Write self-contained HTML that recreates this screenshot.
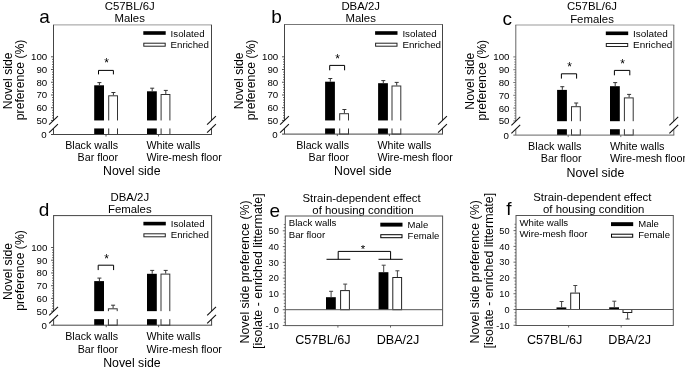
<!DOCTYPE html>
<html><head><meta charset="utf-8"><style>
html,body{margin:0;padding:0;background:#fff;}
body{width:685px;height:371px;overflow:hidden;}
svg{display:block;}
text{font-family:"Liberation Sans", Arial, Helvetica, sans-serif;fill:#000;}
</style></head><body>
<svg width="685" height="371" viewBox="0 0 685 371">
<rect width="685" height="371" fill="#fff"/>
<text x="39.3" y="23.1" font-size="19">a</text>
<text x="129.7" y="9.9" font-size="11.4" text-anchor="middle">C57BL/6J</text>
<text x="129.7" y="22.3" font-size="11.4" text-anchor="middle">Males</text>
<rect x="94.2" y="85.3" width="9.8" height="49.2" fill="#000"/>
<line x1="99.4" y1="85.3" x2="99.4" y2="82.6" stroke="#333" stroke-width="1"/>
<line x1="97.4" y1="82.6" x2="101.4" y2="82.6" stroke="#333" stroke-width="1"/>
<rect x="108.7" y="95.8" width="8.8" height="38.7" fill="#fff" stroke="#333" stroke-width="1"/>
<line x1="113.4" y1="95.3" x2="113.4" y2="92.5" stroke="#333" stroke-width="1"/>
<line x1="111.4" y1="92.5" x2="115.4" y2="92.5" stroke="#333" stroke-width="1"/>
<rect x="147" y="91.3" width="9.8" height="43.2" fill="#000"/>
<line x1="152.2" y1="91.3" x2="152.2" y2="88.2" stroke="#333" stroke-width="1"/>
<line x1="150.2" y1="88.2" x2="154.2" y2="88.2" stroke="#333" stroke-width="1"/>
<rect x="161.1" y="94.5" width="8.8" height="40" fill="#fff" stroke="#333" stroke-width="1"/>
<line x1="165.8" y1="94" x2="165.8" y2="90.4" stroke="#333" stroke-width="1"/>
<line x1="163.8" y1="90.4" x2="167.8" y2="90.4" stroke="#333" stroke-width="1"/>
<line x1="53" y1="24.9" x2="212" y2="24.9" stroke="#999" stroke-width="1"/>
<line x1="211.5" y1="24.9" x2="211.5" y2="120.45" stroke="#444" stroke-width="1"/>
<line x1="211.5" y1="128.45" x2="211.5" y2="134.5" stroke="#444" stroke-width="1"/>
<line x1="53.5" y1="24.9" x2="53.5" y2="120.45" stroke="#444" stroke-width="1"/>
<line x1="53.5" y1="128.45" x2="53.5" y2="134.5" stroke="#444" stroke-width="1"/>
<line x1="51" y1="134.5" x2="212" y2="134.5" stroke="#444" stroke-width="1"/>
<line x1="51" y1="120.45" x2="53.5" y2="120.45" stroke="#444" stroke-width="0.9"/>
<text x="47.2" y="123.95" font-size="9.7" text-anchor="end">50</text>
<line x1="52" y1="117.9" x2="53.5" y2="117.9" stroke="#444" stroke-width="0.8"/>
<line x1="52" y1="115.36" x2="53.5" y2="115.36" stroke="#444" stroke-width="0.8"/>
<line x1="52" y1="112.81" x2="53.5" y2="112.81" stroke="#444" stroke-width="0.8"/>
<line x1="52" y1="110.27" x2="53.5" y2="110.27" stroke="#444" stroke-width="0.8"/>
<line x1="51" y1="107.72" x2="53.5" y2="107.72" stroke="#444" stroke-width="0.9"/>
<text x="47.2" y="111.22" font-size="9.7" text-anchor="end">60</text>
<line x1="52" y1="105.17" x2="53.5" y2="105.17" stroke="#444" stroke-width="0.8"/>
<line x1="52" y1="102.63" x2="53.5" y2="102.63" stroke="#444" stroke-width="0.8"/>
<line x1="52" y1="100.08" x2="53.5" y2="100.08" stroke="#444" stroke-width="0.8"/>
<line x1="52" y1="97.54" x2="53.5" y2="97.54" stroke="#444" stroke-width="0.8"/>
<line x1="51" y1="94.99" x2="53.5" y2="94.99" stroke="#444" stroke-width="0.9"/>
<text x="47.2" y="98.49" font-size="9.7" text-anchor="end">70</text>
<line x1="52" y1="92.44" x2="53.5" y2="92.44" stroke="#444" stroke-width="0.8"/>
<line x1="52" y1="89.9" x2="53.5" y2="89.9" stroke="#444" stroke-width="0.8"/>
<line x1="52" y1="87.35" x2="53.5" y2="87.35" stroke="#444" stroke-width="0.8"/>
<line x1="52" y1="84.81" x2="53.5" y2="84.81" stroke="#444" stroke-width="0.8"/>
<line x1="51" y1="82.26" x2="53.5" y2="82.26" stroke="#444" stroke-width="0.9"/>
<text x="47.2" y="85.76" font-size="9.7" text-anchor="end">80</text>
<line x1="52" y1="79.71" x2="53.5" y2="79.71" stroke="#444" stroke-width="0.8"/>
<line x1="52" y1="77.17" x2="53.5" y2="77.17" stroke="#444" stroke-width="0.8"/>
<line x1="52" y1="74.62" x2="53.5" y2="74.62" stroke="#444" stroke-width="0.8"/>
<line x1="52" y1="72.08" x2="53.5" y2="72.08" stroke="#444" stroke-width="0.8"/>
<line x1="51" y1="69.53" x2="53.5" y2="69.53" stroke="#444" stroke-width="0.9"/>
<text x="47.2" y="73.03" font-size="9.7" text-anchor="end">90</text>
<line x1="52" y1="66.98" x2="53.5" y2="66.98" stroke="#444" stroke-width="0.8"/>
<line x1="52" y1="64.44" x2="53.5" y2="64.44" stroke="#444" stroke-width="0.8"/>
<line x1="52" y1="61.89" x2="53.5" y2="61.89" stroke="#444" stroke-width="0.8"/>
<line x1="52" y1="59.35" x2="53.5" y2="59.35" stroke="#444" stroke-width="0.8"/>
<line x1="51" y1="56.8" x2="53.5" y2="56.8" stroke="#444" stroke-width="0.9"/>
<text x="47.2" y="60.3" font-size="9.7" text-anchor="end">100</text>
<text x="46.7" y="138" font-size="9.7" text-anchor="end">0</text>
<rect x="54.1" y="120.45" width="156.8" height="8" fill="#fff"/>
<line x1="49.1" y1="124.7" x2="57.9" y2="116.2" stroke="#111" stroke-width="1.1"/>
<line x1="49.1" y1="132.7" x2="57.9" y2="124.2" stroke="#111" stroke-width="1.1"/>
<line x1="207.1" y1="124.7" x2="215.9" y2="116.2" stroke="#111" stroke-width="1.1"/>
<line x1="207.1" y1="132.7" x2="215.9" y2="124.2" stroke="#111" stroke-width="1.1"/>
<line x1="106" y1="134.5" x2="106" y2="136.5" stroke="#444" stroke-width="0.9"/>
<line x1="158.5" y1="134.5" x2="158.5" y2="136.5" stroke="#444" stroke-width="0.9"/>
<path d="M98.5 74.4V70.4H113.4V74.4" fill="none" stroke="#000" stroke-width="1"/>
<text x="106.6" y="67.3" font-size="12" text-anchor="middle">*</text>
<rect x="143.3" y="31.2" width="22.4" height="3.6" fill="#000"/>
<rect x="143.8" y="43.2" width="21.4" height="3" fill="#fff" stroke="#222" stroke-width="1"/>
<text x="170.6" y="36.6" font-size="9.7">Isolated</text>
<text x="170.6" y="47.7" font-size="9.7">Enriched</text>
<text x="118" y="148.5" font-size="10.7" text-anchor="end">Black walls</text>
<text x="118" y="161" font-size="10.7" text-anchor="end">Bar floor</text>
<text x="146.4" y="148.5" font-size="10.7">White walls</text>
<text x="146.4" y="161" font-size="10.7">Wire-mesh floor</text>
<text x="131.8" y="175" font-size="12.3" text-anchor="middle">Novel side</text>
<text transform="translate(11.5,80.9) rotate(-90)" font-size="12.2" text-anchor="middle">Novel side</text>
<text transform="translate(24.1,79.9) rotate(-90)" font-size="12.2" text-anchor="middle">preference (%)</text>
<text x="271.2" y="23.3" font-size="19">b</text>
<text x="360.7" y="9.9" font-size="11.4" text-anchor="middle">DBA/2J</text>
<text x="360.7" y="22.3" font-size="11.4" text-anchor="middle">Males</text>
<rect x="325.1" y="81.7" width="9.8" height="52.4" fill="#000"/>
<line x1="330.3" y1="81.7" x2="330.3" y2="78.5" stroke="#333" stroke-width="1"/>
<line x1="328.3" y1="78.5" x2="332.3" y2="78.5" stroke="#333" stroke-width="1"/>
<rect x="339.7" y="113.7" width="8.8" height="20.4" fill="#fff" stroke="#333" stroke-width="1"/>
<line x1="344.4" y1="113.2" x2="344.4" y2="109.5" stroke="#333" stroke-width="1"/>
<line x1="342.4" y1="109.5" x2="346.4" y2="109.5" stroke="#333" stroke-width="1"/>
<rect x="378.1" y="83.2" width="9.8" height="50.9" fill="#000"/>
<line x1="383.3" y1="83.2" x2="383.3" y2="80.6" stroke="#333" stroke-width="1"/>
<line x1="381.3" y1="80.6" x2="385.3" y2="80.6" stroke="#333" stroke-width="1"/>
<rect x="392" y="86" width="8.8" height="48.1" fill="#fff" stroke="#333" stroke-width="1"/>
<line x1="396.7" y1="85.5" x2="396.7" y2="82.4" stroke="#333" stroke-width="1"/>
<line x1="394.7" y1="82.4" x2="398.7" y2="82.4" stroke="#333" stroke-width="1"/>
<line x1="284" y1="24.5" x2="443" y2="24.5" stroke="#777" stroke-width="1"/>
<line x1="442.5" y1="24.5" x2="442.5" y2="120.45" stroke="#444" stroke-width="1"/>
<line x1="442.5" y1="128.45" x2="442.5" y2="134.1" stroke="#444" stroke-width="1"/>
<line x1="284.5" y1="24.5" x2="284.5" y2="120.45" stroke="#444" stroke-width="1"/>
<line x1="284.5" y1="128.45" x2="284.5" y2="134.1" stroke="#444" stroke-width="1"/>
<line x1="282" y1="134.1" x2="443" y2="134.1" stroke="#444" stroke-width="1"/>
<line x1="282" y1="120.45" x2="284.5" y2="120.45" stroke="#444" stroke-width="0.9"/>
<text x="278.2" y="123.95" font-size="9.7" text-anchor="end">50</text>
<line x1="283" y1="117.9" x2="284.5" y2="117.9" stroke="#444" stroke-width="0.8"/>
<line x1="283" y1="115.36" x2="284.5" y2="115.36" stroke="#444" stroke-width="0.8"/>
<line x1="283" y1="112.81" x2="284.5" y2="112.81" stroke="#444" stroke-width="0.8"/>
<line x1="283" y1="110.27" x2="284.5" y2="110.27" stroke="#444" stroke-width="0.8"/>
<line x1="282" y1="107.72" x2="284.5" y2="107.72" stroke="#444" stroke-width="0.9"/>
<text x="278.2" y="111.22" font-size="9.7" text-anchor="end">60</text>
<line x1="283" y1="105.17" x2="284.5" y2="105.17" stroke="#444" stroke-width="0.8"/>
<line x1="283" y1="102.63" x2="284.5" y2="102.63" stroke="#444" stroke-width="0.8"/>
<line x1="283" y1="100.08" x2="284.5" y2="100.08" stroke="#444" stroke-width="0.8"/>
<line x1="283" y1="97.54" x2="284.5" y2="97.54" stroke="#444" stroke-width="0.8"/>
<line x1="282" y1="94.99" x2="284.5" y2="94.99" stroke="#444" stroke-width="0.9"/>
<text x="278.2" y="98.49" font-size="9.7" text-anchor="end">70</text>
<line x1="283" y1="92.44" x2="284.5" y2="92.44" stroke="#444" stroke-width="0.8"/>
<line x1="283" y1="89.9" x2="284.5" y2="89.9" stroke="#444" stroke-width="0.8"/>
<line x1="283" y1="87.35" x2="284.5" y2="87.35" stroke="#444" stroke-width="0.8"/>
<line x1="283" y1="84.81" x2="284.5" y2="84.81" stroke="#444" stroke-width="0.8"/>
<line x1="282" y1="82.26" x2="284.5" y2="82.26" stroke="#444" stroke-width="0.9"/>
<text x="278.2" y="85.76" font-size="9.7" text-anchor="end">80</text>
<line x1="283" y1="79.71" x2="284.5" y2="79.71" stroke="#444" stroke-width="0.8"/>
<line x1="283" y1="77.17" x2="284.5" y2="77.17" stroke="#444" stroke-width="0.8"/>
<line x1="283" y1="74.62" x2="284.5" y2="74.62" stroke="#444" stroke-width="0.8"/>
<line x1="283" y1="72.08" x2="284.5" y2="72.08" stroke="#444" stroke-width="0.8"/>
<line x1="282" y1="69.53" x2="284.5" y2="69.53" stroke="#444" stroke-width="0.9"/>
<text x="278.2" y="73.03" font-size="9.7" text-anchor="end">90</text>
<line x1="283" y1="66.98" x2="284.5" y2="66.98" stroke="#444" stroke-width="0.8"/>
<line x1="283" y1="64.44" x2="284.5" y2="64.44" stroke="#444" stroke-width="0.8"/>
<line x1="283" y1="61.89" x2="284.5" y2="61.89" stroke="#444" stroke-width="0.8"/>
<line x1="283" y1="59.35" x2="284.5" y2="59.35" stroke="#444" stroke-width="0.8"/>
<line x1="282" y1="56.8" x2="284.5" y2="56.8" stroke="#444" stroke-width="0.9"/>
<text x="278.2" y="60.3" font-size="9.7" text-anchor="end">100</text>
<text x="277.7" y="137.6" font-size="9.7" text-anchor="end">0</text>
<rect x="285.1" y="120.45" width="156.8" height="8" fill="#fff"/>
<line x1="280.1" y1="124.7" x2="288.9" y2="116.2" stroke="#111" stroke-width="1.1"/>
<line x1="280.1" y1="132.7" x2="288.9" y2="124.2" stroke="#111" stroke-width="1.1"/>
<line x1="438.1" y1="124.7" x2="446.9" y2="116.2" stroke="#111" stroke-width="1.1"/>
<line x1="438.1" y1="132.7" x2="446.9" y2="124.2" stroke="#111" stroke-width="1.1"/>
<line x1="337.3" y1="134.1" x2="337.3" y2="136.1" stroke="#444" stroke-width="0.9"/>
<line x1="389.45" y1="134.1" x2="389.45" y2="136.1" stroke="#444" stroke-width="0.9"/>
<path d="M329.7 70.3V65.4H344.6V70.3" fill="none" stroke="#000" stroke-width="1"/>
<text x="337.6" y="62.8" font-size="12" text-anchor="middle">*</text>
<rect x="375.1" y="31.2" width="22.4" height="3.6" fill="#000"/>
<rect x="375.6" y="43.2" width="21.4" height="3" fill="#fff" stroke="#222" stroke-width="1"/>
<text x="402.4" y="36.6" font-size="9.8">Isolated</text>
<text x="402.4" y="47.7" font-size="9.8">Enriched</text>
<text x="349" y="148.5" font-size="10.7" text-anchor="end">Black walls</text>
<text x="349" y="161" font-size="10.7" text-anchor="end">Bar floor</text>
<text x="377.4" y="148.5" font-size="10.7">White walls</text>
<text x="377.4" y="161" font-size="10.7">Wire-mesh floor</text>
<text x="362.8" y="175" font-size="12.3" text-anchor="middle">Novel side</text>
<text transform="translate(242.5,80.9) rotate(-90)" font-size="12.2" text-anchor="middle">Novel side</text>
<text transform="translate(255.1,79.9) rotate(-90)" font-size="12.2" text-anchor="middle">preference (%)</text>
<text x="502.6" y="24.9" font-size="19">c</text>
<text x="592" y="10.2" font-size="11.4" text-anchor="middle">C57BL/6J</text>
<text x="592" y="22.6" font-size="11.4" text-anchor="middle">Females</text>
<rect x="557.1" y="89.9" width="9.8" height="45.2" fill="#000"/>
<line x1="562.3" y1="89.9" x2="562.3" y2="86.7" stroke="#333" stroke-width="1"/>
<line x1="560.3" y1="86.7" x2="564.3" y2="86.7" stroke="#333" stroke-width="1"/>
<rect x="571.5" y="106.7" width="8.8" height="28.4" fill="#fff" stroke="#333" stroke-width="1"/>
<line x1="576.2" y1="106.2" x2="576.2" y2="103" stroke="#333" stroke-width="1"/>
<line x1="574.2" y1="103" x2="578.2" y2="103" stroke="#333" stroke-width="1"/>
<rect x="610" y="86.2" width="9.8" height="48.9" fill="#000"/>
<line x1="615.2" y1="86.2" x2="615.2" y2="82.6" stroke="#333" stroke-width="1"/>
<line x1="613.2" y1="82.6" x2="617.2" y2="82.6" stroke="#333" stroke-width="1"/>
<rect x="624.4" y="97.9" width="8.8" height="37.2" fill="#fff" stroke="#333" stroke-width="1"/>
<line x1="629.1" y1="97.4" x2="629.1" y2="94.4" stroke="#333" stroke-width="1"/>
<line x1="627.1" y1="94.4" x2="631.1" y2="94.4" stroke="#333" stroke-width="1"/>
<line x1="515.3" y1="25" x2="674.3" y2="25" stroke="#999" stroke-width="1"/>
<line x1="673.8" y1="25" x2="673.8" y2="121.2" stroke="#666" stroke-width="1"/>
<line x1="673.8" y1="129.2" x2="673.8" y2="135.1" stroke="#666" stroke-width="1"/>
<line x1="515.8" y1="25" x2="515.8" y2="121.2" stroke="#666" stroke-width="1"/>
<line x1="515.8" y1="129.2" x2="515.8" y2="135.1" stroke="#666" stroke-width="1"/>
<line x1="513.3" y1="135.1" x2="674.3" y2="135.1" stroke="#666" stroke-width="1"/>
<line x1="513.3" y1="120.9" x2="515.8" y2="120.9" stroke="#666" stroke-width="0.9"/>
<text x="509.5" y="124.4" font-size="9.7" text-anchor="end">50</text>
<line x1="514.3" y1="118.34" x2="515.8" y2="118.34" stroke="#666" stroke-width="0.8"/>
<line x1="514.3" y1="115.78" x2="515.8" y2="115.78" stroke="#666" stroke-width="0.8"/>
<line x1="514.3" y1="113.22" x2="515.8" y2="113.22" stroke="#666" stroke-width="0.8"/>
<line x1="514.3" y1="110.66" x2="515.8" y2="110.66" stroke="#666" stroke-width="0.8"/>
<line x1="513.3" y1="108.1" x2="515.8" y2="108.1" stroke="#666" stroke-width="0.9"/>
<text x="509.5" y="111.6" font-size="9.7" text-anchor="end">60</text>
<line x1="514.3" y1="105.54" x2="515.8" y2="105.54" stroke="#666" stroke-width="0.8"/>
<line x1="514.3" y1="102.98" x2="515.8" y2="102.98" stroke="#666" stroke-width="0.8"/>
<line x1="514.3" y1="100.42" x2="515.8" y2="100.42" stroke="#666" stroke-width="0.8"/>
<line x1="514.3" y1="97.86" x2="515.8" y2="97.86" stroke="#666" stroke-width="0.8"/>
<line x1="513.3" y1="95.3" x2="515.8" y2="95.3" stroke="#666" stroke-width="0.9"/>
<text x="509.5" y="98.8" font-size="9.7" text-anchor="end">70</text>
<line x1="514.3" y1="92.74" x2="515.8" y2="92.74" stroke="#666" stroke-width="0.8"/>
<line x1="514.3" y1="90.18" x2="515.8" y2="90.18" stroke="#666" stroke-width="0.8"/>
<line x1="514.3" y1="87.62" x2="515.8" y2="87.62" stroke="#666" stroke-width="0.8"/>
<line x1="514.3" y1="85.06" x2="515.8" y2="85.06" stroke="#666" stroke-width="0.8"/>
<line x1="513.3" y1="82.5" x2="515.8" y2="82.5" stroke="#666" stroke-width="0.9"/>
<text x="509.5" y="86" font-size="9.7" text-anchor="end">80</text>
<line x1="514.3" y1="79.94" x2="515.8" y2="79.94" stroke="#666" stroke-width="0.8"/>
<line x1="514.3" y1="77.38" x2="515.8" y2="77.38" stroke="#666" stroke-width="0.8"/>
<line x1="514.3" y1="74.82" x2="515.8" y2="74.82" stroke="#666" stroke-width="0.8"/>
<line x1="514.3" y1="72.26" x2="515.8" y2="72.26" stroke="#666" stroke-width="0.8"/>
<line x1="513.3" y1="69.7" x2="515.8" y2="69.7" stroke="#666" stroke-width="0.9"/>
<text x="509.5" y="73.2" font-size="9.7" text-anchor="end">90</text>
<line x1="514.3" y1="67.14" x2="515.8" y2="67.14" stroke="#666" stroke-width="0.8"/>
<line x1="514.3" y1="64.58" x2="515.8" y2="64.58" stroke="#666" stroke-width="0.8"/>
<line x1="514.3" y1="62.02" x2="515.8" y2="62.02" stroke="#666" stroke-width="0.8"/>
<line x1="514.3" y1="59.46" x2="515.8" y2="59.46" stroke="#666" stroke-width="0.8"/>
<line x1="513.3" y1="56.9" x2="515.8" y2="56.9" stroke="#666" stroke-width="0.9"/>
<text x="509.5" y="60.4" font-size="9.7" text-anchor="end">100</text>
<text x="509" y="138.6" font-size="9.7" text-anchor="end">0</text>
<rect x="516.4" y="121.2" width="156.8" height="8" fill="#fff"/>
<line x1="511.4" y1="125.45" x2="520.2" y2="116.95" stroke="#111" stroke-width="1.1"/>
<line x1="511.4" y1="133.45" x2="520.2" y2="124.95" stroke="#111" stroke-width="1.1"/>
<line x1="669.4" y1="125.45" x2="678.2" y2="116.95" stroke="#111" stroke-width="1.1"/>
<line x1="669.4" y1="133.45" x2="678.2" y2="124.95" stroke="#111" stroke-width="1.1"/>
<line x1="568.2" y1="135.1" x2="568.2" y2="137.1" stroke="#666" stroke-width="0.9"/>
<line x1="620.8" y1="135.1" x2="620.8" y2="137.1" stroke="#666" stroke-width="0.9"/>
<path d="M561.4 78.6V73.8H576.6V78.6" fill="none" stroke="#000" stroke-width="1"/>
<text x="569.6" y="71.2" font-size="12" text-anchor="middle">*</text>
<path d="M614.4 75.3V70.4H629.8V75.3" fill="none" stroke="#000" stroke-width="1"/>
<text x="622.6" y="67.8" font-size="12" text-anchor="middle">*</text>
<rect x="605.8" y="31.5" width="22.4" height="3.6" fill="#000"/>
<rect x="606.3" y="43.5" width="21.4" height="3" fill="#fff" stroke="#222" stroke-width="1"/>
<text x="633.1" y="36.9" font-size="9.95">Isolated</text>
<text x="633.1" y="48" font-size="9.95">Enriched</text>
<text x="581.5" y="149.9" font-size="10.8" text-anchor="end">Black walls</text>
<text x="581.5" y="162.4" font-size="10.8" text-anchor="end">Bar floor</text>
<text x="609.9" y="149.9" font-size="10.8">White walls</text>
<text x="609.9" y="162.4" font-size="10.8">Wire-mesh floor</text>
<text x="595.4" y="177" font-size="12.4" text-anchor="middle">Novel side</text>
<text transform="translate(473.8,81.2) rotate(-90)" font-size="12.2" text-anchor="middle">Novel side</text>
<text transform="translate(486.4,80.2) rotate(-90)" font-size="12.2" text-anchor="middle">preference (%)</text>
<text x="38.8" y="215.7" font-size="19">d</text>
<text x="129.8" y="200.5" font-size="11.4" text-anchor="middle">DBA/2J</text>
<text x="129.8" y="212.9" font-size="11.4" text-anchor="middle">Females</text>
<rect x="94.2" y="281.1" width="9.8" height="44.1" fill="#000"/>
<line x1="99.4" y1="281.1" x2="99.4" y2="278.1" stroke="#333" stroke-width="1"/>
<line x1="97.4" y1="278.1" x2="101.4" y2="278.1" stroke="#333" stroke-width="1"/>
<rect x="108.4" y="308.8" width="8.8" height="16.4" fill="#fff" stroke="#333" stroke-width="1"/>
<line x1="113.1" y1="308.3" x2="113.1" y2="305.2" stroke="#333" stroke-width="1"/>
<line x1="111.1" y1="305.2" x2="115.1" y2="305.2" stroke="#333" stroke-width="1"/>
<rect x="147" y="273.8" width="9.8" height="51.4" fill="#000"/>
<line x1="152.2" y1="273.8" x2="152.2" y2="270.4" stroke="#333" stroke-width="1"/>
<line x1="150.2" y1="270.4" x2="154.2" y2="270.4" stroke="#333" stroke-width="1"/>
<rect x="161" y="274.1" width="8.8" height="51.1" fill="#fff" stroke="#333" stroke-width="1"/>
<line x1="165.7" y1="273.6" x2="165.7" y2="270.4" stroke="#333" stroke-width="1"/>
<line x1="163.7" y1="270.4" x2="167.7" y2="270.4" stroke="#333" stroke-width="1"/>
<line x1="53.1" y1="215.6" x2="212.1" y2="215.6" stroke="#444" stroke-width="1"/>
<line x1="211.6" y1="215.6" x2="211.6" y2="311.15" stroke="#444" stroke-width="1"/>
<line x1="211.6" y1="319.15" x2="211.6" y2="325.2" stroke="#444" stroke-width="1"/>
<line x1="53.6" y1="215.6" x2="53.6" y2="311.15" stroke="#444" stroke-width="1"/>
<line x1="53.6" y1="319.15" x2="53.6" y2="325.2" stroke="#444" stroke-width="1"/>
<line x1="51.1" y1="325.2" x2="212.1" y2="325.2" stroke="#444" stroke-width="1"/>
<line x1="51.1" y1="311.15" x2="53.6" y2="311.15" stroke="#444" stroke-width="0.9"/>
<text x="47.3" y="314.65" font-size="9.7" text-anchor="end">50</text>
<line x1="52.1" y1="308.6" x2="53.6" y2="308.6" stroke="#444" stroke-width="0.8"/>
<line x1="52.1" y1="306.06" x2="53.6" y2="306.06" stroke="#444" stroke-width="0.8"/>
<line x1="52.1" y1="303.51" x2="53.6" y2="303.51" stroke="#444" stroke-width="0.8"/>
<line x1="52.1" y1="300.97" x2="53.6" y2="300.97" stroke="#444" stroke-width="0.8"/>
<line x1="51.1" y1="298.42" x2="53.6" y2="298.42" stroke="#444" stroke-width="0.9"/>
<text x="47.3" y="301.92" font-size="9.7" text-anchor="end">60</text>
<line x1="52.1" y1="295.87" x2="53.6" y2="295.87" stroke="#444" stroke-width="0.8"/>
<line x1="52.1" y1="293.33" x2="53.6" y2="293.33" stroke="#444" stroke-width="0.8"/>
<line x1="52.1" y1="290.78" x2="53.6" y2="290.78" stroke="#444" stroke-width="0.8"/>
<line x1="52.1" y1="288.24" x2="53.6" y2="288.24" stroke="#444" stroke-width="0.8"/>
<line x1="51.1" y1="285.69" x2="53.6" y2="285.69" stroke="#444" stroke-width="0.9"/>
<text x="47.3" y="289.19" font-size="9.7" text-anchor="end">70</text>
<line x1="52.1" y1="283.14" x2="53.6" y2="283.14" stroke="#444" stroke-width="0.8"/>
<line x1="52.1" y1="280.6" x2="53.6" y2="280.6" stroke="#444" stroke-width="0.8"/>
<line x1="52.1" y1="278.05" x2="53.6" y2="278.05" stroke="#444" stroke-width="0.8"/>
<line x1="52.1" y1="275.51" x2="53.6" y2="275.51" stroke="#444" stroke-width="0.8"/>
<line x1="51.1" y1="272.96" x2="53.6" y2="272.96" stroke="#444" stroke-width="0.9"/>
<text x="47.3" y="276.46" font-size="9.7" text-anchor="end">80</text>
<line x1="52.1" y1="270.41" x2="53.6" y2="270.41" stroke="#444" stroke-width="0.8"/>
<line x1="52.1" y1="267.87" x2="53.6" y2="267.87" stroke="#444" stroke-width="0.8"/>
<line x1="52.1" y1="265.32" x2="53.6" y2="265.32" stroke="#444" stroke-width="0.8"/>
<line x1="52.1" y1="262.78" x2="53.6" y2="262.78" stroke="#444" stroke-width="0.8"/>
<line x1="51.1" y1="260.23" x2="53.6" y2="260.23" stroke="#444" stroke-width="0.9"/>
<text x="47.3" y="263.73" font-size="9.7" text-anchor="end">90</text>
<line x1="52.1" y1="257.68" x2="53.6" y2="257.68" stroke="#444" stroke-width="0.8"/>
<line x1="52.1" y1="255.14" x2="53.6" y2="255.14" stroke="#444" stroke-width="0.8"/>
<line x1="52.1" y1="252.59" x2="53.6" y2="252.59" stroke="#444" stroke-width="0.8"/>
<line x1="52.1" y1="250.05" x2="53.6" y2="250.05" stroke="#444" stroke-width="0.8"/>
<line x1="51.1" y1="247.5" x2="53.6" y2="247.5" stroke="#444" stroke-width="0.9"/>
<text x="47.3" y="251" font-size="9.7" text-anchor="end">100</text>
<text x="46.8" y="328.7" font-size="9.7" text-anchor="end">0</text>
<rect x="54.2" y="311.15" width="156.8" height="8" fill="#fff"/>
<line x1="49.2" y1="315.4" x2="58" y2="306.9" stroke="#111" stroke-width="1.1"/>
<line x1="49.2" y1="323.4" x2="58" y2="314.9" stroke="#111" stroke-width="1.1"/>
<line x1="207.2" y1="315.4" x2="216" y2="306.9" stroke="#111" stroke-width="1.1"/>
<line x1="207.2" y1="323.4" x2="216" y2="314.9" stroke="#111" stroke-width="1.1"/>
<line x1="106.2" y1="325.2" x2="106.2" y2="327.2" stroke="#444" stroke-width="0.9"/>
<line x1="158.6" y1="325.2" x2="158.6" y2="327.2" stroke="#444" stroke-width="0.9"/>
<path d="M98.2 270.1V265.2H113.6V270.1" fill="none" stroke="#000" stroke-width="1"/>
<text x="106.6" y="262.6" font-size="12" text-anchor="middle">*</text>
<rect x="143.4" y="221.8" width="22.4" height="3.6" fill="#000"/>
<rect x="143.9" y="233.8" width="21.4" height="3" fill="#fff" stroke="#222" stroke-width="1"/>
<text x="170.7" y="227.2" font-size="9.7">Isolated</text>
<text x="170.7" y="238.3" font-size="9.7">Enriched</text>
<text x="118.1" y="340" font-size="10.7" text-anchor="end">Black walls</text>
<text x="118.1" y="352.5" font-size="10.7" text-anchor="end">Bar floor</text>
<text x="146.5" y="340" font-size="10.7">White walls</text>
<text x="146.5" y="352.5" font-size="10.7">Wire-mesh floor</text>
<text x="131.9" y="366.6" font-size="12.3" text-anchor="middle">Novel side</text>
<text transform="translate(11.6,271.5) rotate(-90)" font-size="12.2" text-anchor="middle">Novel side</text>
<text transform="translate(24.2,270.5) rotate(-90)" font-size="12.2" text-anchor="middle">preference (%)</text>
<text x="269.6" y="216.5" font-size="19">e</text>
<text x="361.6" y="201.9" font-size="11.4" text-anchor="middle">Strain-dependent effect</text>
<text x="363" y="213.5" font-size="11.4" text-anchor="middle">of housing condition</text>
<rect x="326" y="297.2" width="9.8" height="12.5" fill="#000"/>
<line x1="331.1" y1="297.2" x2="331.1" y2="291.3" stroke="#444" stroke-width="1"/>
<line x1="329.1" y1="291.3" x2="333.1" y2="291.3" stroke="#444" stroke-width="1"/>
<rect x="340.6" y="290.6" width="8.8" height="19.1" fill="#fff" stroke="#222" stroke-width="1"/>
<line x1="345.2" y1="290.1" x2="345.2" y2="284.1" stroke="#444" stroke-width="1"/>
<line x1="343.2" y1="284.1" x2="347.2" y2="284.1" stroke="#444" stroke-width="1"/>
<rect x="378.6" y="272.2" width="9.8" height="37.5" fill="#000"/>
<line x1="383.7" y1="272.2" x2="383.7" y2="265.2" stroke="#444" stroke-width="1"/>
<line x1="381.7" y1="265.2" x2="385.7" y2="265.2" stroke="#444" stroke-width="1"/>
<rect x="392.8" y="277.5" width="8.8" height="32.2" fill="#fff" stroke="#222" stroke-width="1"/>
<line x1="397.4" y1="277" x2="397.4" y2="270.8" stroke="#444" stroke-width="1"/>
<line x1="395.4" y1="270.8" x2="399.4" y2="270.8" stroke="#444" stroke-width="1"/>
<line x1="285.3" y1="309.7" x2="442.6" y2="309.7" stroke="#555" stroke-width="1"/>
<rect x="285.3" y="216" width="157.3" height="109.6" fill="none" stroke="#555" stroke-width="1"/>
<line x1="282.8" y1="325.48" x2="285.3" y2="325.48" stroke="#555" stroke-width="0.9"/>
<text x="278.8" y="328.78" font-size="9.2" text-anchor="end">-10</text>
<line x1="283.8" y1="322.32" x2="285.3" y2="322.32" stroke="#555" stroke-width="0.8"/>
<line x1="283.8" y1="319.17" x2="285.3" y2="319.17" stroke="#555" stroke-width="0.8"/>
<line x1="283.8" y1="316.01" x2="285.3" y2="316.01" stroke="#555" stroke-width="0.8"/>
<line x1="283.8" y1="312.86" x2="285.3" y2="312.86" stroke="#555" stroke-width="0.8"/>
<line x1="282.8" y1="309.7" x2="285.3" y2="309.7" stroke="#555" stroke-width="0.9"/>
<text x="278.8" y="313" font-size="9.2" text-anchor="end">0</text>
<line x1="283.8" y1="306.54" x2="285.3" y2="306.54" stroke="#555" stroke-width="0.8"/>
<line x1="283.8" y1="303.39" x2="285.3" y2="303.39" stroke="#555" stroke-width="0.8"/>
<line x1="283.8" y1="300.23" x2="285.3" y2="300.23" stroke="#555" stroke-width="0.8"/>
<line x1="283.8" y1="297.08" x2="285.3" y2="297.08" stroke="#555" stroke-width="0.8"/>
<line x1="282.8" y1="293.92" x2="285.3" y2="293.92" stroke="#555" stroke-width="0.9"/>
<text x="278.8" y="297.22" font-size="9.2" text-anchor="end">10</text>
<line x1="283.8" y1="290.76" x2="285.3" y2="290.76" stroke="#555" stroke-width="0.8"/>
<line x1="283.8" y1="287.61" x2="285.3" y2="287.61" stroke="#555" stroke-width="0.8"/>
<line x1="283.8" y1="284.45" x2="285.3" y2="284.45" stroke="#555" stroke-width="0.8"/>
<line x1="283.8" y1="281.3" x2="285.3" y2="281.3" stroke="#555" stroke-width="0.8"/>
<line x1="282.8" y1="278.14" x2="285.3" y2="278.14" stroke="#555" stroke-width="0.9"/>
<text x="278.8" y="281.44" font-size="9.2" text-anchor="end">20</text>
<line x1="283.8" y1="274.98" x2="285.3" y2="274.98" stroke="#555" stroke-width="0.8"/>
<line x1="283.8" y1="271.83" x2="285.3" y2="271.83" stroke="#555" stroke-width="0.8"/>
<line x1="283.8" y1="268.67" x2="285.3" y2="268.67" stroke="#555" stroke-width="0.8"/>
<line x1="283.8" y1="265.52" x2="285.3" y2="265.52" stroke="#555" stroke-width="0.8"/>
<line x1="282.8" y1="262.36" x2="285.3" y2="262.36" stroke="#555" stroke-width="0.9"/>
<text x="278.8" y="265.66" font-size="9.2" text-anchor="end">30</text>
<line x1="283.8" y1="259.2" x2="285.3" y2="259.2" stroke="#555" stroke-width="0.8"/>
<line x1="283.8" y1="256.05" x2="285.3" y2="256.05" stroke="#555" stroke-width="0.8"/>
<line x1="283.8" y1="252.89" x2="285.3" y2="252.89" stroke="#555" stroke-width="0.8"/>
<line x1="283.8" y1="249.74" x2="285.3" y2="249.74" stroke="#555" stroke-width="0.8"/>
<line x1="282.8" y1="246.58" x2="285.3" y2="246.58" stroke="#555" stroke-width="0.9"/>
<text x="278.8" y="249.88" font-size="9.2" text-anchor="end">40</text>
<line x1="283.8" y1="243.42" x2="285.3" y2="243.42" stroke="#555" stroke-width="0.8"/>
<line x1="283.8" y1="240.27" x2="285.3" y2="240.27" stroke="#555" stroke-width="0.8"/>
<line x1="283.8" y1="237.11" x2="285.3" y2="237.11" stroke="#555" stroke-width="0.8"/>
<line x1="283.8" y1="233.96" x2="285.3" y2="233.96" stroke="#555" stroke-width="0.8"/>
<line x1="282.8" y1="230.8" x2="285.3" y2="230.8" stroke="#555" stroke-width="0.9"/>
<text x="278.8" y="234.1" font-size="9.2" text-anchor="end">50</text>
<line x1="283.8" y1="227.64" x2="285.3" y2="227.64" stroke="#555" stroke-width="0.8"/>
<line x1="283.8" y1="224.49" x2="285.3" y2="224.49" stroke="#555" stroke-width="0.8"/>
<line x1="337.9" y1="325.6" x2="337.9" y2="327.6" stroke="#555" stroke-width="0.9"/>
<line x1="390.5" y1="325.6" x2="390.5" y2="327.6" stroke="#555" stroke-width="0.9"/>
<text x="288.8" y="226.4" font-size="9.65">Black walls</text>
<text x="288.8" y="237.7" font-size="9.65">Bar floor</text>
<rect x="380.3" y="222.7" width="22.2" height="3.9" fill="#000"/>
<rect x="380.8" y="234.7" width="21.2" height="3" fill="#fff" stroke="#000" stroke-width="1"/>
<text x="407.6" y="227.8" font-size="9.5">Male</text>
<text x="407.6" y="238.7" font-size="9.5">Female</text>
<text x="322.9" y="344.2" font-size="12.6" text-anchor="middle">C57BL/6J</text>
<text x="398" y="344.2" font-size="12.6" text-anchor="middle">DBA/2J</text>
<text transform="translate(248.9,271.9) rotate(-90)" font-size="12.4" text-anchor="middle">Novel side preference (%)</text>
<text transform="translate(261.9,271.2) rotate(-90)" font-size="12.4" text-anchor="middle">[isolate - enriched littermate]</text>
<path d="M326.5 259.3H350.3M338.2 259.3V251.4H390.6V259.3M378.5 259.3H402.7" fill="none" stroke="#000" stroke-width="1"/>
<text x="363.1" y="252.8" font-size="11.5" text-anchor="middle">*</text>
<text x="506.3" y="215" font-size="19">f</text>
<text x="592.3" y="201.4" font-size="11.4" text-anchor="middle">Strain-dependent effect</text>
<text x="593.7" y="213" font-size="11.4" text-anchor="middle">of housing condition</text>
<rect x="556.5" y="307.4" width="9.8" height="2.1" fill="#000"/>
<line x1="561.6" y1="307.4" x2="561.6" y2="301.5" stroke="#444" stroke-width="1"/>
<line x1="559.6" y1="301.5" x2="563.6" y2="301.5" stroke="#444" stroke-width="1"/>
<rect x="570.7" y="293.1" width="8.8" height="16.4" fill="#fff" stroke="#222" stroke-width="1"/>
<line x1="575.3" y1="292.6" x2="575.3" y2="285.5" stroke="#444" stroke-width="1"/>
<line x1="573.3" y1="285.5" x2="577.3" y2="285.5" stroke="#444" stroke-width="1"/>
<rect x="609.2" y="307.3" width="9.8" height="2.2" fill="#000"/>
<line x1="614.3" y1="307.3" x2="614.3" y2="301.2" stroke="#444" stroke-width="1"/>
<line x1="612.3" y1="301.2" x2="616.3" y2="301.2" stroke="#444" stroke-width="1"/>
<rect x="623" y="309.5" width="8.8" height="3" fill="#fff" stroke="#222" stroke-width="1"/>
<line x1="627.6" y1="312.5" x2="627.6" y2="319" stroke="#444" stroke-width="1"/>
<line x1="625.6" y1="319" x2="629.6" y2="319" stroke="#444" stroke-width="1"/>
<line x1="516" y1="309.5" x2="673.3" y2="309.5" stroke="#555" stroke-width="1"/>
<rect x="516" y="215.5" width="157.3" height="110" fill="none" stroke="#555" stroke-width="1"/>
<line x1="513.5" y1="325.28" x2="516" y2="325.28" stroke="#555" stroke-width="0.9"/>
<text x="509.5" y="328.58" font-size="9.2" text-anchor="end">-10</text>
<line x1="514.5" y1="322.12" x2="516" y2="322.12" stroke="#555" stroke-width="0.8"/>
<line x1="514.5" y1="318.97" x2="516" y2="318.97" stroke="#555" stroke-width="0.8"/>
<line x1="514.5" y1="315.81" x2="516" y2="315.81" stroke="#555" stroke-width="0.8"/>
<line x1="514.5" y1="312.66" x2="516" y2="312.66" stroke="#555" stroke-width="0.8"/>
<line x1="513.5" y1="309.5" x2="516" y2="309.5" stroke="#555" stroke-width="0.9"/>
<text x="509.5" y="312.8" font-size="9.2" text-anchor="end">0</text>
<line x1="514.5" y1="306.34" x2="516" y2="306.34" stroke="#555" stroke-width="0.8"/>
<line x1="514.5" y1="303.19" x2="516" y2="303.19" stroke="#555" stroke-width="0.8"/>
<line x1="514.5" y1="300.03" x2="516" y2="300.03" stroke="#555" stroke-width="0.8"/>
<line x1="514.5" y1="296.88" x2="516" y2="296.88" stroke="#555" stroke-width="0.8"/>
<line x1="513.5" y1="293.72" x2="516" y2="293.72" stroke="#555" stroke-width="0.9"/>
<text x="509.5" y="297.02" font-size="9.2" text-anchor="end">10</text>
<line x1="514.5" y1="290.56" x2="516" y2="290.56" stroke="#555" stroke-width="0.8"/>
<line x1="514.5" y1="287.41" x2="516" y2="287.41" stroke="#555" stroke-width="0.8"/>
<line x1="514.5" y1="284.25" x2="516" y2="284.25" stroke="#555" stroke-width="0.8"/>
<line x1="514.5" y1="281.1" x2="516" y2="281.1" stroke="#555" stroke-width="0.8"/>
<line x1="513.5" y1="277.94" x2="516" y2="277.94" stroke="#555" stroke-width="0.9"/>
<text x="509.5" y="281.24" font-size="9.2" text-anchor="end">20</text>
<line x1="514.5" y1="274.78" x2="516" y2="274.78" stroke="#555" stroke-width="0.8"/>
<line x1="514.5" y1="271.63" x2="516" y2="271.63" stroke="#555" stroke-width="0.8"/>
<line x1="514.5" y1="268.47" x2="516" y2="268.47" stroke="#555" stroke-width="0.8"/>
<line x1="514.5" y1="265.32" x2="516" y2="265.32" stroke="#555" stroke-width="0.8"/>
<line x1="513.5" y1="262.16" x2="516" y2="262.16" stroke="#555" stroke-width="0.9"/>
<text x="509.5" y="265.46" font-size="9.2" text-anchor="end">30</text>
<line x1="514.5" y1="259" x2="516" y2="259" stroke="#555" stroke-width="0.8"/>
<line x1="514.5" y1="255.85" x2="516" y2="255.85" stroke="#555" stroke-width="0.8"/>
<line x1="514.5" y1="252.69" x2="516" y2="252.69" stroke="#555" stroke-width="0.8"/>
<line x1="514.5" y1="249.54" x2="516" y2="249.54" stroke="#555" stroke-width="0.8"/>
<line x1="513.5" y1="246.38" x2="516" y2="246.38" stroke="#555" stroke-width="0.9"/>
<text x="509.5" y="249.68" font-size="9.2" text-anchor="end">40</text>
<line x1="514.5" y1="243.22" x2="516" y2="243.22" stroke="#555" stroke-width="0.8"/>
<line x1="514.5" y1="240.07" x2="516" y2="240.07" stroke="#555" stroke-width="0.8"/>
<line x1="514.5" y1="236.91" x2="516" y2="236.91" stroke="#555" stroke-width="0.8"/>
<line x1="514.5" y1="233.76" x2="516" y2="233.76" stroke="#555" stroke-width="0.8"/>
<line x1="513.5" y1="230.6" x2="516" y2="230.6" stroke="#555" stroke-width="0.9"/>
<text x="509.5" y="233.9" font-size="9.2" text-anchor="end">50</text>
<line x1="514.5" y1="227.44" x2="516" y2="227.44" stroke="#555" stroke-width="0.8"/>
<line x1="514.5" y1="224.29" x2="516" y2="224.29" stroke="#555" stroke-width="0.8"/>
<line x1="568.6" y1="325.5" x2="568.6" y2="327.5" stroke="#555" stroke-width="0.9"/>
<line x1="621.2" y1="325.5" x2="621.2" y2="327.5" stroke="#555" stroke-width="0.9"/>
<text x="519.5" y="225.9" font-size="9.65">White walls</text>
<text x="519.5" y="237.2" font-size="9.65">Wire-mesh floor</text>
<rect x="611" y="222.2" width="22.2" height="3.9" fill="#000"/>
<rect x="611.5" y="234.2" width="21.2" height="3" fill="#fff" stroke="#000" stroke-width="1"/>
<text x="638.3" y="227.3" font-size="9.5">Male</text>
<text x="638.3" y="238.2" font-size="9.5">Female</text>
<text x="554.6" y="343.7" font-size="12.6" text-anchor="middle">C57BL/6J</text>
<text x="629.7" y="343.7" font-size="12.6" text-anchor="middle">DBA/2J</text>
<text transform="translate(478.6,271.8) rotate(-90)" font-size="12.4" text-anchor="middle">Novel side preference (%)</text>
<text transform="translate(492.6,270.7) rotate(-90)" font-size="12.4" text-anchor="middle">[isolate - enriched littermate]</text>
</svg>
</body></html>
